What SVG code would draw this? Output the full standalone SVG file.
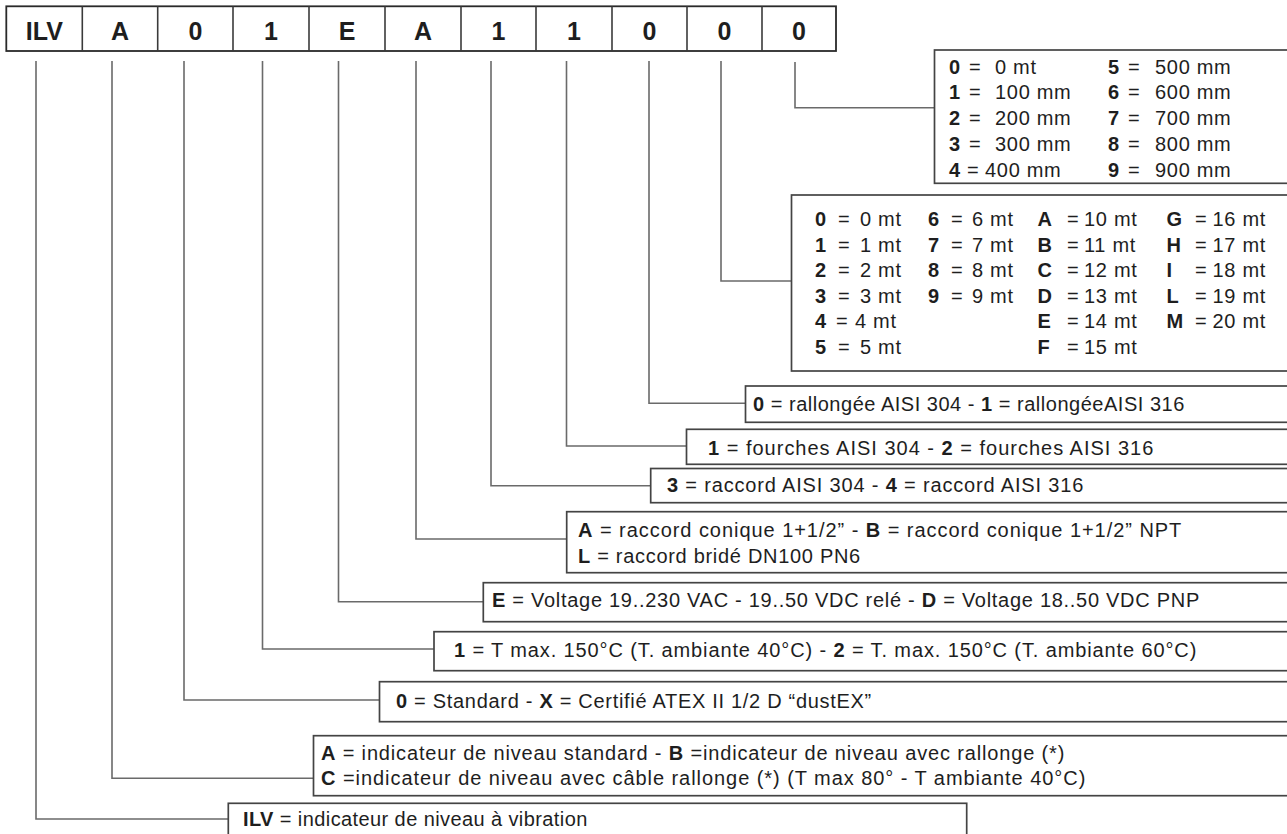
<svg xmlns="http://www.w3.org/2000/svg" width="1287" height="834" viewBox="0 0 1287 834">
<style>
  text { font-family: "Liberation Sans", Arial, sans-serif; fill: #1e1e1e; }
  .hd { font-size: 25px; font-weight: bold; text-anchor: middle; }
  .t { font-size: 20px; letter-spacing: 0.7px; }
  .b { font-weight: bold; }
  .box { fill: #fff; stroke: #444; stroke-width: 1.7; }
  .hbox { fill: #fff; stroke: #2a2a2a; stroke-width: 1.8; }
  .div { stroke: #3a3a3a; stroke-width: 1.6; }
  .conn { fill: none; stroke: #6a6a6a; stroke-width: 1.6; }
</style>

<g id="header">
  <rect class="hbox" x="6.3" y="6.3" width="829.7" height="44.7"/>
  <line class="div" x1="82.3" y1="6.3" x2="82.3" y2="51"/>
  <line class="div" x1="157.7" y1="6.3" x2="157.7" y2="51"/>
  <line class="div" x1="233" y1="6.3" x2="233" y2="51"/>
  <line class="div" x1="309" y1="6.3" x2="309" y2="51"/>
  <line class="div" x1="385" y1="6.3" x2="385" y2="51"/>
  <line class="div" x1="461" y1="6.3" x2="461" y2="51"/>
  <line class="div" x1="536" y1="6.3" x2="536" y2="51"/>
  <line class="div" x1="612" y1="6.3" x2="612" y2="51"/>
  <line class="div" x1="687" y1="6.3" x2="687" y2="51"/>
  <line class="div" x1="762" y1="6.3" x2="762" y2="51"/>
  <text class="hd" x="44.3" y="40">ILV</text>
  <text class="hd" x="120" y="40">A</text>
  <text class="hd" x="195.4" y="40">0</text>
  <text class="hd" x="271" y="40">1</text>
  <text class="hd" x="347" y="40">E</text>
  <text class="hd" x="423" y="40">A</text>
  <text class="hd" x="498.5" y="40">1</text>
  <text class="hd" x="574" y="40">1</text>
  <text class="hd" x="649.5" y="40">0</text>
  <text class="hd" x="724.5" y="40">0</text>
  <text class="hd" x="799" y="40">0</text>
</g>

<g id="connectors">
  <path class="conn" d="M36,61 V819 H228.3"/>
  <path class="conn" d="M112,61 V778.3 H313.5"/>
  <path class="conn" d="M184,61 V700 H379.5"/>
  <path class="conn" d="M262.5,61 V649 H434"/>
  <path class="conn" d="M338.5,61 V601.7 H483.3"/>
  <path class="conn" d="M416,61 V539 H566.7"/>
  <path class="conn" d="M491,61 V485.7 H650.7"/>
  <path class="conn" d="M566.5,61 V446 H686.5"/>
  <path class="conn" d="M649,61 V403.3 H745.5"/>
  <path class="conn" d="M721,61 V281 H791.5"/>
  <path class="conn" d="M795,62 V107.7 H934.5"/>
</g>

<g id="table-mm">
  <rect class="box" x="934.5" y="50" width="400" height="133.3"/>
  <g class="t">
    <text class="b" x="949" y="73.5">0</text><text x="969" y="73.5">=</text><text x="995" y="73.5">0 mt</text>
    <text class="b" x="949" y="99.3">1</text><text x="969" y="99.3">=</text><text x="995" y="99.3">100 mm</text>
    <text class="b" x="949" y="125">2</text><text x="969" y="125">=</text><text x="995" y="125">200 mm</text>
    <text class="b" x="949" y="150.7">3</text><text x="969" y="150.7">=</text><text x="995" y="150.7">300 mm</text>
    <text class="b" x="949" y="176.5">4</text><text x="967" y="176.5">=</text><text x="985" y="176.5">400 mm</text>
    <text class="b" x="1108" y="73.5">5</text><text x="1128" y="73.5">=</text><text x="1155" y="73.5">500 mm</text>
    <text class="b" x="1108" y="99.3">6</text><text x="1128" y="99.3">=</text><text x="1155" y="99.3">600 mm</text>
    <text class="b" x="1108" y="125">7</text><text x="1128" y="125">=</text><text x="1155" y="125">700 mm</text>
    <text class="b" x="1108" y="150.7">8</text><text x="1128" y="150.7">=</text><text x="1155" y="150.7">800 mm</text>
    <text class="b" x="1108" y="176.5">9</text><text x="1128" y="176.5">=</text><text x="1155" y="176.5">900 mm</text>
  </g>
</g>

<g id="table-mt">
  <rect class="box" x="791.5" y="195" width="550" height="176"/>
  <g class="t">
    <text class="b" x="815" y="226">0</text><text x="838" y="226">=</text><text x="860" y="226">0 mt</text>
    <text class="b" x="815" y="251.5">1</text><text x="838" y="251.5">=</text><text x="860" y="251.5">1 mt</text>
    <text class="b" x="815" y="277">2</text><text x="838" y="277">=</text><text x="860" y="277">2 mt</text>
    <text class="b" x="815" y="302.5">3</text><text x="838" y="302.5">=</text><text x="860" y="302.5">3 mt</text>
    <text class="b" x="815" y="328">4</text><text x="836" y="328">=</text><text x="855" y="328">4 mt</text>
    <text class="b" x="815" y="353.5">5</text><text x="838" y="353.5">=</text><text x="860" y="353.5">5 mt</text>
    <text class="b" x="928" y="226">6</text><text x="951" y="226">=</text><text x="972" y="226">6 mt</text>
    <text class="b" x="928" y="251.5">7</text><text x="951" y="251.5">=</text><text x="972" y="251.5">7 mt</text>
    <text class="b" x="928" y="277">8</text><text x="951" y="277">=</text><text x="972" y="277">8 mt</text>
    <text class="b" x="928" y="302.5">9</text><text x="951" y="302.5">=</text><text x="972" y="302.5">9 mt</text>
    <text class="b" x="1037.5" y="226">A</text><text x="1067" y="226">=</text><text x="1084" y="226">10 mt</text>
    <text class="b" x="1037.5" y="251.5">B</text><text x="1067" y="251.5">=</text><text x="1084" y="251.5">11 mt</text>
    <text class="b" x="1037.5" y="277">C</text><text x="1067" y="277">=</text><text x="1084" y="277">12 mt</text>
    <text class="b" x="1037.5" y="302.5">D</text><text x="1067" y="302.5">=</text><text x="1084" y="302.5">13 mt</text>
    <text class="b" x="1037.5" y="328">E</text><text x="1067" y="328">=</text><text x="1084" y="328">14 mt</text>
    <text class="b" x="1037.5" y="353.5">F</text><text x="1067" y="353.5">=</text><text x="1084" y="353.5">15 mt</text>
    <text class="b" x="1166.5" y="226">G</text><text x="1195" y="226">=</text><text x="1212.5" y="226">16 mt</text>
    <text class="b" x="1166.5" y="251.5">H</text><text x="1195" y="251.5">=</text><text x="1212.5" y="251.5">17 mt</text>
    <text class="b" x="1166.5" y="277">I</text><text x="1195" y="277">=</text><text x="1212.5" y="277">18 mt</text>
    <text class="b" x="1166.5" y="302.5">L</text><text x="1195" y="302.5">=</text><text x="1212.5" y="302.5">19 mt</text>
    <text class="b" x="1166.5" y="328">M</text><text x="1195" y="328">=</text><text x="1212.5" y="328">20 mt</text>
  </g>
</g>

<g id="rallonge">
  <rect class="box" x="745.5" y="386" width="600" height="36.3"/>
  <text class="t" x="753" y="410.7" textLength="432" lengthAdjust="spacing"><tspan class="b">0</tspan> = rallongée AISI 304 - <tspan class="b">1</tspan> = rallongéeAISI 316</text>
</g>

<g id="fourches">
  <rect class="box" x="686.5" y="429.3" width="650" height="35"/>
  <text class="t" x="708" y="454.5" textLength="446" lengthAdjust="spacing"><tspan class="b">1</tspan> = fourches AISI 304 - <tspan class="b">2</tspan> = fourches AISI 316</text>
</g>

<g id="raccord">
  <rect class="box" x="650.7" y="468.5" width="700" height="34.2"/>
  <text class="t" x="667" y="491.7" textLength="417" lengthAdjust="spacing"><tspan class="b">3</tspan> = raccord AISI 304 - <tspan class="b">4</tspan> = raccord AISI 316</text>
</g>

<g id="raccord-conique">
  <rect class="box" x="566.7" y="511.7" width="750" height="61"/>
  <text class="t" x="578" y="537.3" textLength="604" lengthAdjust="spacing"><tspan class="b">A</tspan> = raccord conique 1+1/2” - <tspan class="b">B</tspan> = raccord conique 1+1/2” NPT</text>
  <text class="t" x="578" y="562.7"><tspan class="b">L</tspan> = raccord bridé DN100 PN6</text>
</g>

<g id="voltage">
  <rect class="box" x="483.3" y="582.7" width="850" height="39"/>
  <text class="t" x="492" y="606.7" textLength="708" lengthAdjust="spacing"><tspan class="b">E</tspan> = Voltage 19..230 VAC - 19..50 VDC relé - <tspan class="b">D</tspan> = Voltage 18..50 VDC PNP</text>
</g>

<g id="temperature">
  <rect class="box" x="434" y="631.7" width="900" height="39"/>
  <text class="t" x="454" y="656.7" textLength="743" lengthAdjust="spacing"><tspan class="b">1</tspan> = T max. 150°C (T. ambiante 40°C) - <tspan class="b">2</tspan> = T. max. 150°C (T. ambiante 60°C)</text>
</g>

<g id="atex">
  <rect class="box" x="379.5" y="681.7" width="950" height="40"/>
  <text class="t" x="396" y="708.3"><tspan class="b">0</tspan> = Standard - <tspan class="b">X</tspan> = Certifié ATEX II 1/2 D “dustEX”</text>
</g>

<g id="indicateur">
  <rect class="box" x="313.5" y="735.7" width="1000" height="60"/>
  <text class="t" x="321" y="759.7" textLength="744" lengthAdjust="spacing"><tspan class="b">A</tspan> = indicateur de niveau standard - <tspan class="b">B</tspan> =indicateur de niveau avec rallonge (*)</text>
  <text class="t" x="321" y="784.7" textLength="765" lengthAdjust="spacing"><tspan class="b">C</tspan> =indicateur de niveau avec câble rallonge (*) (T max 80° - T ambiante 40°C)</text>
</g>

<g id="ilv">
  <rect class="box" x="228.3" y="803.3" width="738.4" height="45"/>
  <text class="t" x="243" y="826.3" textLength="345" lengthAdjust="spacing"><tspan class="b">ILV</tspan> = indicateur de niveau à vibration</text>
</g>
</svg>
